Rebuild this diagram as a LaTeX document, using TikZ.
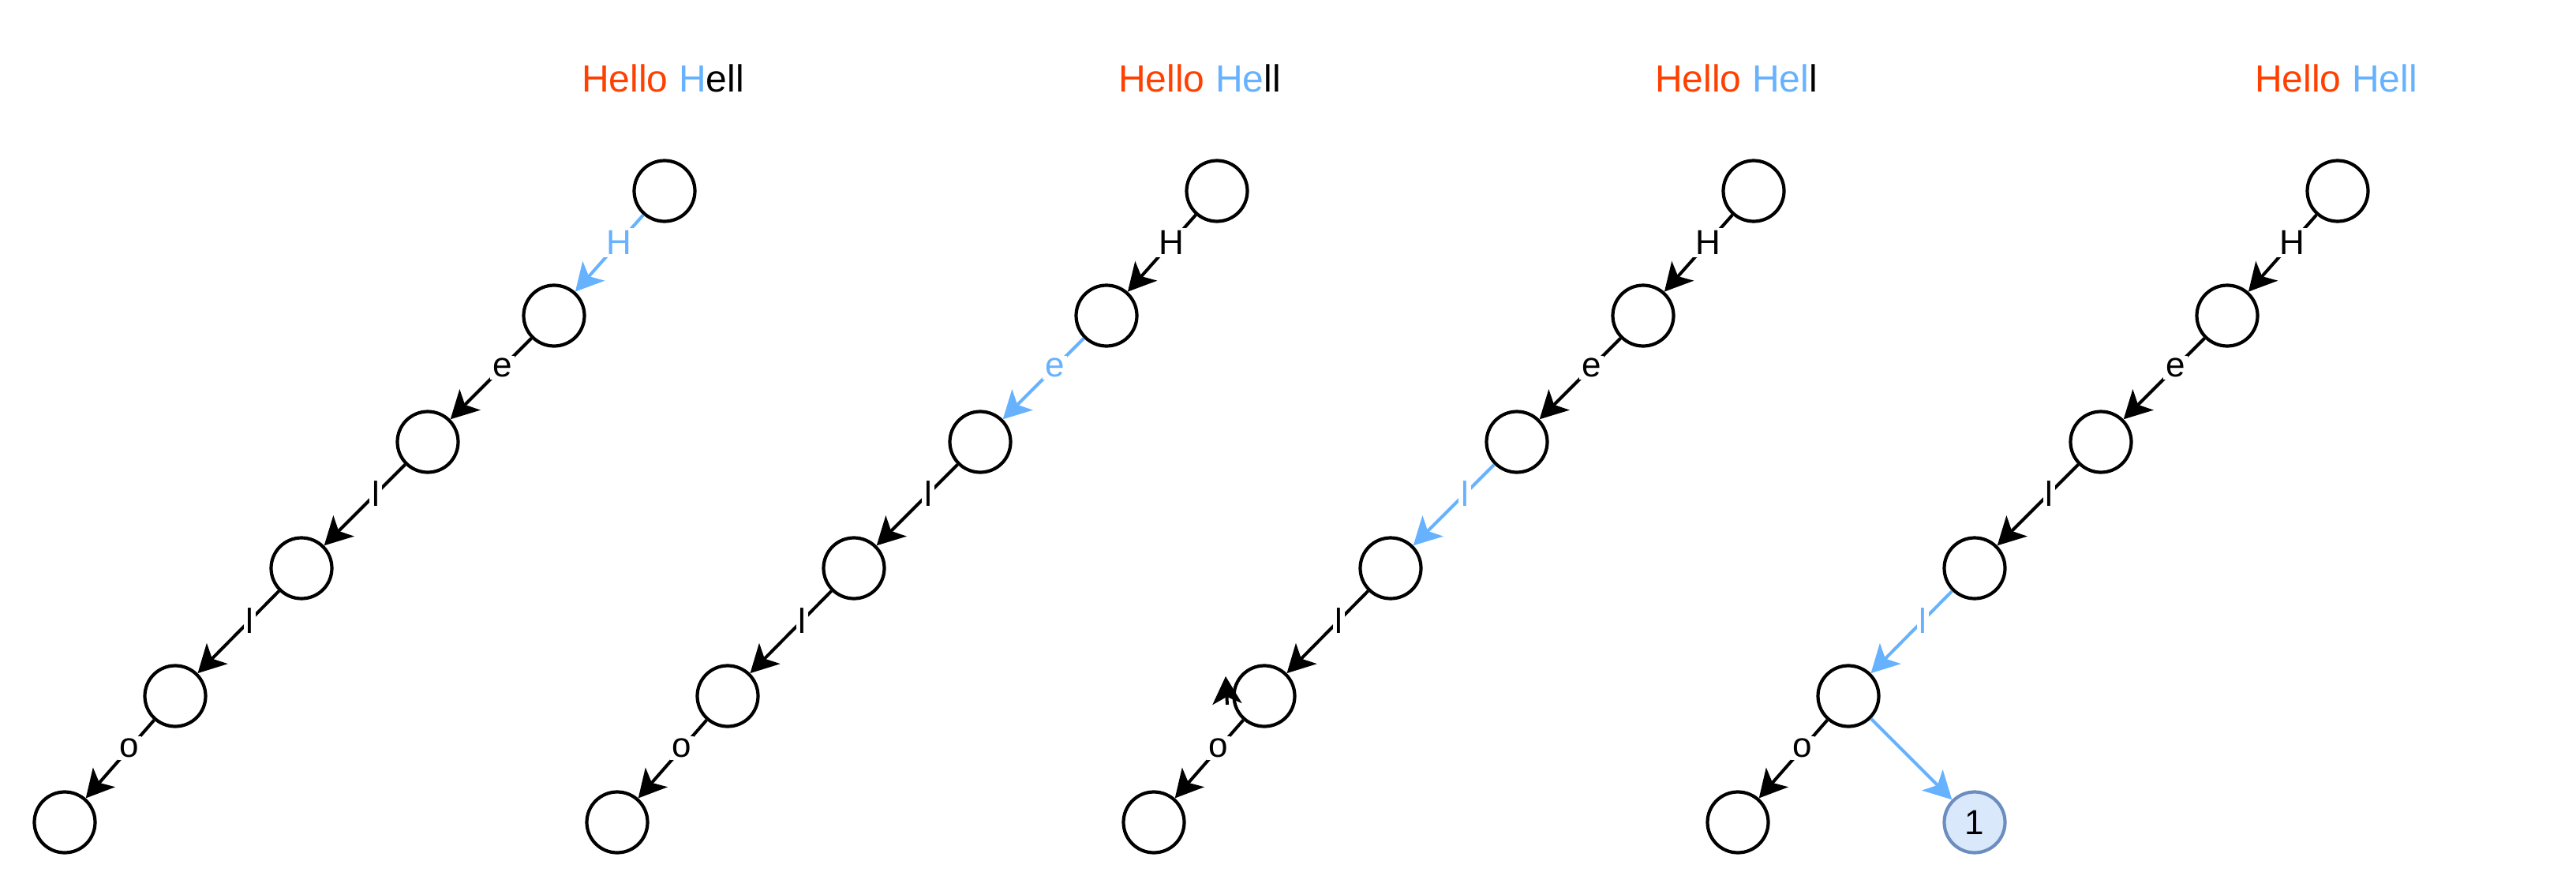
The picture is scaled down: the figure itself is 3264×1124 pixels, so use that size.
\documentclass[tikz,border=0pt]{standalone}
\usepackage{fontspec}
\setmainfont{Liberation Sans}
\usetikzlibrary{arrows.meta}
\definecolor{orng}{HTML}{FF4000}
\definecolor{bl}{HTML}{66B2FF}
\definecolor{nfill}{HTML}{DAE8FC}
\definecolor{nline}{HTML}{6C8EBF}
\begin{document}
\begin{tikzpicture}[x=1pt,y=-1pt,
 vtx/.style={circle,draw=black,line width=4.2pt,minimum size=77pt,inner sep=0pt},
 edg/.style={line width=4pt,-{Stealth[length=35pt,width=37pt,inset=9pt]}},
 lbl/.style={fill=white,inner sep=3pt,font=\fontsize{44}{52}\selectfont,pos=0.36},
 ttl/.style={font=\fontsize{48}{58}\selectfont,anchor=base}]
\useasboundingbox (0,0) rectangle (3264,1124);
% titles
\node[ttl] (t1) at (840,116) {{\color{orng}Hello }{\color{bl}H}ell};
\node[ttl] (t2) at (1520,116) {{\color{orng}Hello }{\color{bl}He}ll};
\node[ttl] (t3) at (2200,116) {{\color{orng}Hello }{\color{bl}Hel}l};
\node[ttl] (t4) at (2960,116) {{\color{orng}Hello }{\color{bl}Hell}};
% panels
\foreach \p/\dx in {1/0,2/700,3/1380,4/2120}{
  \node[vtx] (p\p n1) at (842+\dx,242) {};
  \node[vtx] (p\p n2) at (702+\dx,400) {};
  \node[vtx] (p\p n3) at (542+\dx,560) {};
  \node[vtx] (p\p n4) at (382+\dx,720) {};
  \node[vtx] (p\p n5) at (222+\dx,882) {};
  \node[vtx] (p\p n6) at (82+\dx,1042) {};
}
% panel 1
\draw[edg,bl] (p1n1) -- node[lbl]{H} (p1n2);
\draw[edg] (p1n2) -- node[lbl]{e} (p1n3);
\draw[edg] (p1n3) -- node[lbl]{l} (p1n4);
\draw[edg] (p1n4) -- node[lbl]{l} (p1n5);
\draw[edg] (p1n5) -- node[lbl]{o} (p1n6);
% panel 2
\draw[edg] (p2n1) -- node[lbl]{H} (p2n2);
\draw[edg,bl] (p2n2) -- node[lbl]{e} (p2n3);
\draw[edg] (p2n3) -- node[lbl]{l} (p2n4);
\draw[edg] (p2n4) -- node[lbl]{l} (p2n5);
\draw[edg] (p2n5) -- node[lbl]{o} (p2n6);
% panel 3
\draw[edg] (p3n1) -- node[lbl]{H} (p3n2);
\draw[edg] (p3n2) -- node[lbl]{e} (p3n3);
\draw[edg,bl] (p3n3) -- node[lbl]{l} (p3n4);
\draw[edg] (p3n4) -- node[lbl]{l} (p3n5);
\draw[edg] (p3n5) -- node[lbl]{o} (p3n6);
\coordinate (a3s) at (1555,893);
\coordinate (a3t) at (1553,857);
\draw[edg] (a3s) -- (a3t);
% panel 4
\draw[edg] (p4n1) -- node[lbl]{H} (p4n2);
\draw[edg] (p4n2) -- node[lbl]{e} (p4n3);
\draw[edg] (p4n3) -- node[lbl]{l} (p4n4);
\draw[edg,bl] (p4n4) -- node[lbl]{l} (p4n5);
\draw[edg] (p4n5) -- node[lbl]{o} (p4n6);
\node[vtx,draw=nline,fill=nfill,font=\fontsize{44}{52}\selectfont] (p4one) at (2502,1042) {1};
\draw[edg,bl] (p4n5) -- (p4one);
\end{tikzpicture}
\end{document}
